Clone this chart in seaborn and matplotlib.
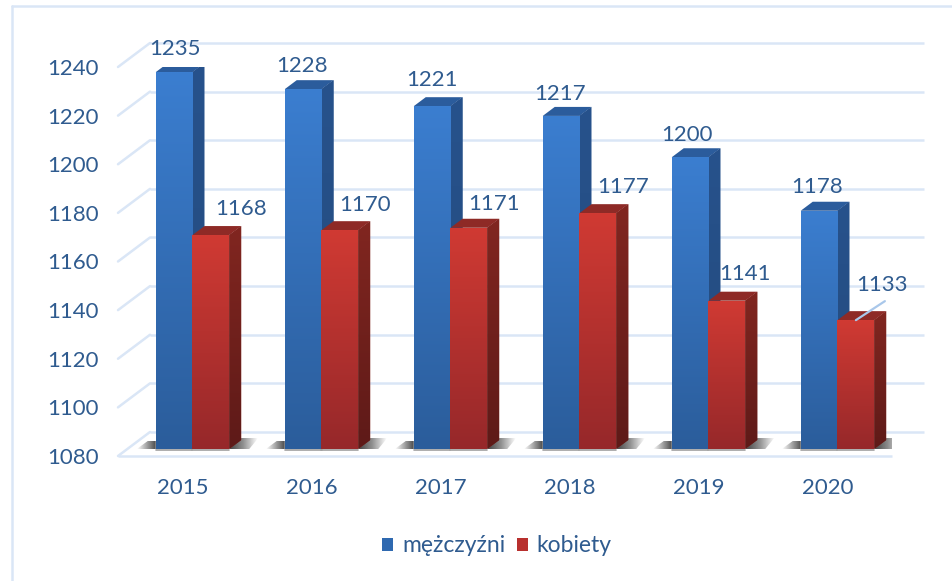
import numpy as np
import pandas as pd
import matplotlib
matplotlib.use('Agg')
import matplotlib.pyplot as plt
import seaborn as sns
from matplotlib.colors import LinearSegmentedColormap
from matplotlib.lines import Line2D
from matplotlib.patches import Polygon

# Values
years = ['2015', '2016', '2017', '2018', '2019', '2020']
men = [1235, 1228, 1221, 1217, 1200, 1178]
women = [1168, 1170, 1171, 1177, 1141, 1133]
y_ticks = [1080, 1100, 1120, 1140, 1160, 1180, 1200, 1220, 1240]
men_label = 'mężczyźni'
women_label = 'kobiety'

df = pd.DataFrame({
    'rok': years * 2,
    'liczba': men + women,
    'plec': [men_label] * len(years) + [women_label] * len(years),
})

# Figure size in pixels, all the 3D offsets below are measured in pixels too
W, H = 953, 581
LEFT, RIGHT, TOP, BOTTOM = 118, 892, 67, 456
text_color = '#2f5b8f'
grid_color = '#dae6f6'

sns.set_theme(style='white')
plt.rcParams['font.family'] = ['Lato', 'DejaVu Sans']

fig = plt.figure(figsize=(W / 100, H / 100), dpi=100)
ax = fig.add_axes([LEFT / W, 1 - BOTTOM / H, (RIGHT - LEFT) / W, (BOTTOM - TOP) / H])

sns.barplot(data=df, x='rok', y='liczba', hue='plec', ax=ax, width=0.57, saturation=1,
            palette={men_label: '#2f69b0', women_label: '#b8302e'}, linewidth=0, gap=0)

x_lim = (-0.5, 5.5)
y_lim = (y_ticks[0], y_ticks[-1])
ax.set_xlim(x_lim)
ax.set_ylim(y_lim)
px_x = (x_lim[1] - x_lim[0]) / (RIGHT - LEFT)
px_y = (y_lim[1] - y_lim[0]) / (BOTTOM - TOP)

# Back wall and floor
wall_dx, wall_dy = 32 * px_x, 24 * px_y
ax.hlines([v + wall_dy for v in y_ticks], x_lim[0] + wall_dx, x_lim[1] + wall_dx,
          color=grid_color, lw=1.8, zorder=1, clip_on=False)
ax.hlines(y_ticks[0], x_lim[0], x_lim[1], color=grid_color, lw=1.8, zorder=1, clip_on=False)
for v in y_ticks:
    ax.plot([x_lim[0], x_lim[0] + wall_dx], [v, v + wall_dy], color=grid_color, lw=1.8,
            zorder=1, clip_on=False)


def fill_gradient(artist, colors, extent, zorder, horizontal=False):
    cmap = LinearSegmentedColormap.from_list('g', colors)
    grad = np.linspace(0, 1, 128)
    grad = grad.reshape(1, -1) if horizontal else grad.reshape(-1, 1)
    img = ax.imshow(grad, cmap=cmap, extent=extent, origin='lower', aspect='auto',
                    zorder=zorder, interpolation='bilinear')
    img.set_clip_path(artist)
    return img


# Colours of each series: front (bottom, top), side (bottom, top), top face
styles = [
    (('#2b5d9b', '#3b7ed0'), ('#234a7c', '#27528c'), '#2b5c9c'),
    (('#96282a', '#d03a33'), ('#5e1a18', '#812620'), '#8e2a26'),
]
shift_x, shift_y = 10 * px_x, 7 * px_y
depth_x, depth_y = 12 * px_x, 9 * px_y
base = y_ticks[0] + shift_y
shadow_gray = (0.22, 0.22, 0.22)

for s, (container, style) in enumerate(zip(ax.containers, styles)):
    front, side, top_col = style
    z = 3 + s
    for bar in container:
        value = bar.get_height()
        x0 = bar.get_x() + shift_x
        x1 = x0 + bar.get_width()
        y1 = value + shift_y
        bar.set_x(x0)
        bar.set_y(base)
        bar.set_height(value - y_ticks[0])
        bar.set_zorder(z + 0.2)
        fill_gradient(bar, front, (x0, x1, base, y1), z + 0.3)

        side_poly = Polygon([(x1, base), (x1 + depth_x, base + depth_y),
                             (x1 + depth_x, y1 + depth_y), (x1, y1)], fc=side[1], ec='none', zorder=z)
        ax.add_patch(side_poly)
        fill_gradient(side_poly, side, (x1, x1 + depth_x, base, y1 + depth_y), z + 0.1)
        ax.add_patch(Polygon([(x0, y1), (x1, y1), (x1 + depth_x, y1 + depth_y),
                              (x0 + depth_x, y1 + depth_y)], fc=top_col, ec='none', zorder=z))

        # Soft shadows on the floor
        if s == 1:
            right_x = x1 + 29 * px_x
            shadow = Polygon([(x1, base), (x1 + depth_x, base + 11 * px_y), (right_x, base + 11 * px_y),
                              (x1 + 20 * px_x, base)], fc='none', ec='none', zorder=2)
            ax.add_patch(shadow)
            ramp = LinearSegmentedColormap.from_list('s', [shadow_gray + (0.95,), shadow_gray + (0.55,),
                                                           shadow_gray + (0,)])
            img = ax.imshow(np.linspace(0, 1, 64).reshape(1, -1), cmap=ramp, aspect='auto', zorder=2,
                            extent=(x1, right_x, base, base + 11 * px_y), origin='lower')
            img.set_clip_path(shadow)
        else:
            left_x = x0 - 19 * px_x
            shadow = Polygon([(left_x, base), (x0 - 8 * px_x, base + 8 * px_y), (x0, base + 8 * px_y), (x0, base)],
                             fc='none', ec='none', zorder=2)
            ax.add_patch(shadow)
            ramp = LinearSegmentedColormap.from_list('s', [shadow_gray + (0,), shadow_gray + (0.9,)])
            img = ax.imshow(np.linspace(0, 1, 64).reshape(1, -1), cmap=ramp, aspect='auto', zorder=2,
                            extent=(left_x, x0, base, base + 8 * px_y), origin='lower')
            img.set_clip_path(shadow)
        ax.plot([x0, x1], [base - 0.6 * px_y, base - 0.6 * px_y], color='#a0a0a0', lw=1.2, zorder=2.5, clip_on=False)

# Data labels, nudged from the centre of each bar by hand like in the original
men_nudge = [(1, 23), (-1, 23), (0, 26), (-1, 22), (-3, 22), (-2, 24)]
women_nudge = [(30, 26), (25, 25), (25, 24), (25, 26), (18, 27), (26, 35)]
for container, nudges in zip(ax.containers, [men_nudge, women_nudge]):
    for bar, (dx, dy) in zip(container, nudges):
        value = bar.get_height() + y_ticks[0]
        xc = bar.get_x() + bar.get_width() / 2
        ytop = bar.get_y() + bar.get_height()
        ax.annotate(f'{value:.0f}', (xc, ytop), xytext=(dx, dy), textcoords='offset pixels',
                    ha='center', va='center', fontsize=16, color=text_color, zorder=8,
                    annotation_clip=False)

# Leader line of the last label
last = ax.containers[1][-1]
lx = last.get_x() + last.get_width() / 2
ly = last.get_y() + last.get_height()
ax.plot([lx, lx + 29 * px_x], [ly, ly + 19 * px_y], color='#a9c7ea', lw=1.6, zorder=8, clip_on=False)

# Axes text
ax.set_yticks(y_ticks)
ax.set_xlabel('')
ax.set_ylabel('')
ax.tick_params(axis='both', length=0, labelsize=16, labelcolor=text_color)
ax.tick_params(axis='y', pad=14)
ax.tick_params(axis='x', pad=15.5)
sns.despine(ax=ax, left=True, bottom=True)
ax.patch.set_alpha(0)

ax.set_xlim(x_lim)
ax.set_ylim(y_lim)

sns.move_legend(ax, 'center', bbox_to_anchor=(497 / W, 1 - 546 / H), bbox_transform=fig.transFigure, ncol=2,
                frameon=False, title=None, fontsize=16.5, handlelength=0.48, handleheight=0.48,
                handletextpad=0.39, columnspacing=0.48, labelcolor=text_color)

# Outer frame of the chart
fig.add_artist(Line2D([12 / W, 12 / W], [0, 1 - 6 / H], color=grid_color, lw=1.8))
fig.add_artist(Line2D([12 / W, 1], [1 - 6 / H, 1 - 6 / H], color=grid_color, lw=1.8))

fig.savefig('out.png', dpi=100, facecolor='white')
